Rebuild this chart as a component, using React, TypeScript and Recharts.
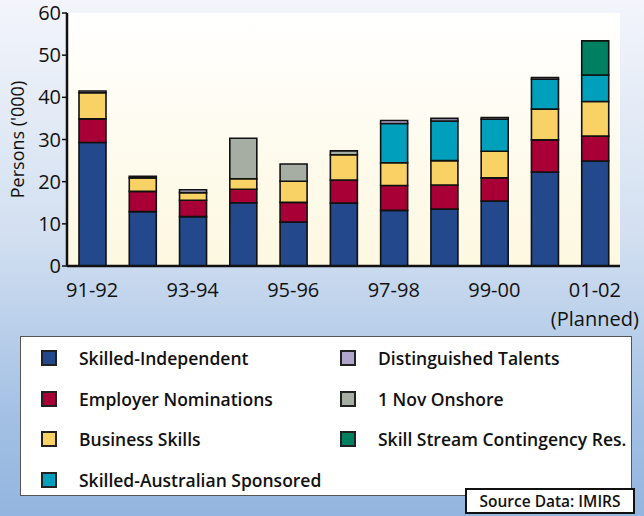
import { BarChart, Bar, XAxis, YAxis, CartesianGrid } from "recharts";

const years = ["91-92", "92-93", "93-94", "94-95", "95-96", "96-97", "97-98", "98-99", "99-00", "00-01", "01-02"];
const skilledIndependent = [29.3, 12.9, 11.7, 15.0, 10.4, 14.9, 13.2, 13.5, 15.4, 22.3, 24.9];
const employerNominations = [5.6, 4.8, 3.9, 3.2, 4.7, 5.5, 5.9, 5.7, 5.5, 7.6, 5.9];
const businessSkills = [6.2, 3.2, 1.8, 2.5, 5.0, 6.0, 5.4, 5.8, 6.3, 7.3, 8.2];
const skilledAusSponsored = [null, null, null, null, null, null, 9.3, 9.4, 7.6, 7.1, 6.3];
const novOnshore = [null, null, null, 9.6, 4.1, 0.9, null, null, null, null, null];
const distinguishedTalents = [0.4, 0.4, 0.7, null, null, null, 0.7, 0.6, 0.4, 0.4, null];
const contingencyRes = [null, null, null, null, null, null, null, null, null, null, 8.1];
const yTicks = [0, 10, 20, 30, 40, 50, 60];

const series = [
  { key: "si", name: "Skilled-Independent", color: "#23488c", values: skilledIndependent },
  { key: "en", name: "Employer Nominations", color: "#a80036", values: employerNominations },
  { key: "bs", name: "Business Skills", color: "#f9d265", values: businessSkills },
  { key: "sas", name: "Skilled-Australian Sponsored", color: "#00a0bc", values: skilledAusSponsored },
  { key: "nov", name: "1 Nov Onshore", color: "#a6aea4", values: novOnshore },
  { key: "dt", name: "Distinguished Talents", color: "#b0a6cc", values: distinguishedTalents },
  { key: "ssc", name: "Skill Stream Contingency Res.", color: "#008060", values: contingencyRes },
];

// legend is laid out in two columns like the original
const legendLeft = ["si", "en", "bs", "sas"];
const legendRight = ["dt", "nov", "ssc"];

const data = years.map((year, i) => {
  const row: Record<string, any> = { year };
  series.forEach(s => { row[s.key] = s.values[i]; });
  return row;
});

const FONT = "'Open Sans', 'Noto Sans', sans-serif";

function XTick({ x, y, payload }: any) {
  return (
    <text x={x} y={y} textAnchor="middle" fontSize={20} fill="#111" fontFamily={FONT}>
      <tspan x={x} dy={23}>{payload.value}</tspan>
      {payload.value === "01-02" && <tspan x={x} dy={29}>(Planned)</tspan>}
    </text>
  );
}

function LegendItem({ id }: { id: string }) {
  const s = series.find(d => d.key === id)!;
  return (
    <div style={{ display: "flex", alignItems: "center", height: 40.5 }}>
      <span style={{ width: 12, height: 12, background: s.color, border: "2px solid #222", marginRight: 22, flexShrink: 0 }} />
      <span style={{ whiteSpace: "nowrap" }}>{s.name}</span>
    </div>
  );
}

export default function App() {
  return (
    <div style={{
      position: "relative", width: 644, height: 516, overflow: "hidden",
      background: "linear-gradient(180deg, #f3f5fb 0%, #d3e0f1 45%, #a4c1e4 80%, #93b5df 100%)",
      fontFamily: FONT,
    }}>
      <style>{`body{margin:0}`}</style>
      <BarChart
        width={644}
        height={340}
        data={data}
        margin={{ top: 13, right: 24, left: 0, bottom: 0 }}
        barSize={27}
      >
        <defs>
          <linearGradient id="plotBg" x1="0" y1="0" x2="0" y2="1">
            <stop offset="0%" stopColor="#ffffff" />
            <stop offset="100%" stopColor="#fdf8e0" />
          </linearGradient>
        </defs>
        <CartesianGrid fill="url(#plotBg)" horizontal={false} vertical={false} />
        <XAxis
          dataKey="year"
          interval={1}
          height={74}
          tick={<XTick />}
          tickLine={false}
          axisLine={{ stroke: "#111", strokeWidth: 2.5 }}
        />
        <XAxis xAxisId="top" dataKey="year" orientation="top" height={0} tick={false} tickLine={false}
          axisLine={{ stroke: "#111", strokeWidth: 2.5 }} />
        <YAxis
          domain={[0, 60]}
          ticks={yTicks}
          width={67}
          tick={{ fontSize: 20, fill: "#111", fontFamily: FONT }}
          tickSize={5}
          tickMargin={1}
          tickLine={{ stroke: "#111", strokeWidth: 1.5 }}
          axisLine={{ stroke: "#111", strokeWidth: 2.5 }}
          label={{
            value: "Persons ('000)", angle: -90, position: "insideLeft", offset: 18,
            style: { fontSize: 18, fill: "#111", fontFamily: FONT, textAnchor: "middle" },
          }}
        />
        <YAxis yAxisId="right" orientation="right" domain={[0, 60]} width={0} tick={false} tickLine={false}
          axisLine={{ stroke: "#111", strokeWidth: 2.5 }} />
        {series.map(s => (
          <Bar
            key={s.key}
            dataKey={s.key}
            name={s.name}
            stackId="a"
            fill={s.color}
            stroke="#111"
            strokeWidth={1.6}
            isAnimationActive={false}
          />
        ))}
      </BarChart>

      <div style={{
        position: "absolute", left: 20, top: 336, width: 612, height: 160,
        background: "#fff", border: "1.5px solid #555", boxSizing: "border-box",
        fontSize: 17.5, fontWeight: 600, color: "#111",
      }}>
        <div style={{ position: "absolute", left: 20, top: 1 }}>
          {legendLeft.map(id => <LegendItem key={id} id={id} />)}
        </div>
        <div style={{ position: "absolute", left: 319, top: 1 }}>
          {legendRight.map(id => <LegendItem key={id} id={id} />)}
        </div>
      </div>
      <div style={{
        position: "absolute", left: 465, top: 488, width: 170, height: 26,
        background: "#fff", border: "2px solid #111", boxSizing: "border-box",
        fontSize: 15.5, fontWeight: 600, color: "#111", textAlign: "center", lineHeight: "22px",
        whiteSpace: "nowrap",
      }}>
        Source Data: IMIRS
      </div>
    </div>
  );
}
